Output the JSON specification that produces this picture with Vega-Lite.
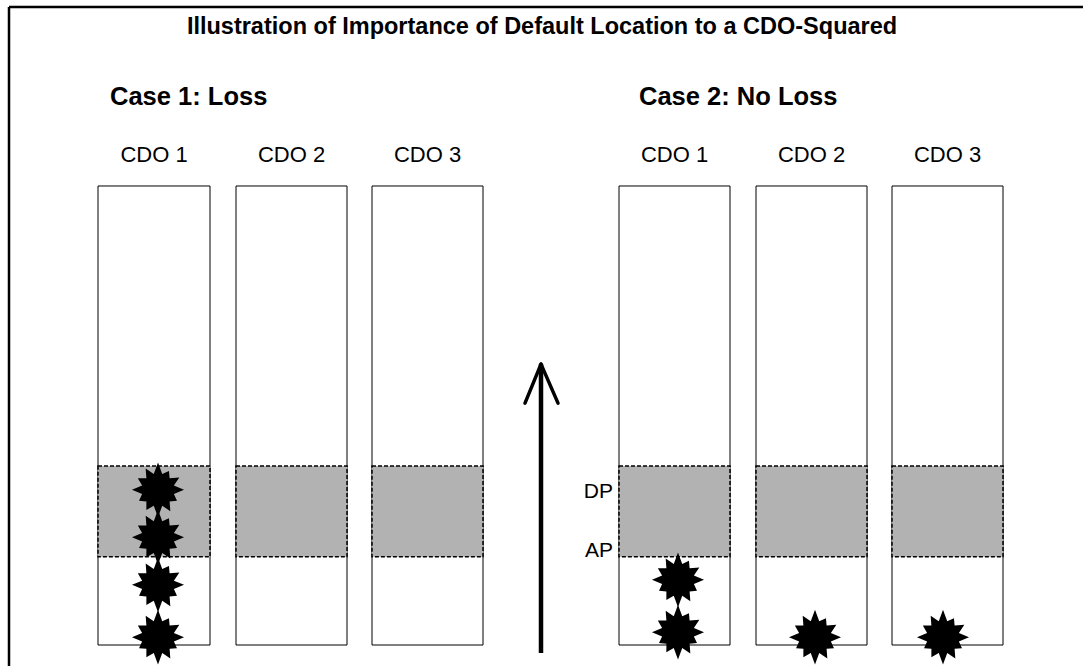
{
  "$schema": "https://vega.github.io/schema/vega-lite/v6.json",
  "width": 1083,
  "height": 666,
  "padding": 0,
  "autosize": {"type": "none"},
  "background": "white",
  "config": {"view": {"stroke": null}, "font": "Liberation Sans"},
  "datasets": {
    "boxes": [
      {"case": "Case 1", "cdo": "CDO 1", "left": 9.8, "right": 21.0, "mid": 15.4, "bottom": 0, "top": 100, "ap": 19.2, "dp": 39.0, "labelLevel": 105.2},
      {"case": "Case 1", "cdo": "CDO 2", "left": 23.6, "right": 34.7, "mid": 29.15, "bottom": 0, "top": 100, "ap": 19.2, "dp": 39.0, "labelLevel": 105.2},
      {"case": "Case 1", "cdo": "CDO 3", "left": 37.2, "right": 48.3, "mid": 42.75, "bottom": 0, "top": 100, "ap": 19.2, "dp": 39.0, "labelLevel": 105.2},
      {"case": "Case 2", "cdo": "CDO 1", "left": 61.9, "right": 73.0, "mid": 67.45, "bottom": 0, "top": 100, "ap": 19.2, "dp": 39.0, "labelLevel": 105.2},
      {"case": "Case 2", "cdo": "CDO 2", "left": 75.6, "right": 86.7, "mid": 81.15, "bottom": 0, "top": 100, "ap": 19.2, "dp": 39.0, "labelLevel": 105.2},
      {"case": "Case 2", "cdo": "CDO 3", "left": 89.2, "right": 100.3, "mid": 94.75, "bottom": 0, "top": 100, "ap": 19.2, "dp": 39.0, "labelLevel": 105.2}
    ],
    "defaults": [
      {"case": "Case 1", "cdo": "CDO 1", "x": 15.8, "level": 33.8},
      {"case": "Case 1", "cdo": "CDO 1", "x": 15.8, "level": 23.5},
      {"case": "Case 1", "cdo": "CDO 1", "x": 15.8, "level": 13.1},
      {"case": "Case 1", "cdo": "CDO 1", "x": 15.8, "level": 1.7},
      {"case": "Case 2", "cdo": "CDO 1", "x": 67.8, "level": 14.2},
      {"case": "Case 2", "cdo": "CDO 1", "x": 67.8, "level": 2.8},
      {"case": "Case 2", "cdo": "CDO 2", "x": 81.5, "level": 1.7},
      {"case": "Case 2", "cdo": "CDO 3", "x": 94.3, "level": 1.7}
    ],
    "frame": [
      {"x": 0.9, "x2": 108.3, "y": 139.0, "y2": 139.0},
      {"x": 0.9, "x2": 0.9, "y": 139.0, "y2": -4.575}
    ],
    "shaft": [{"x": 54.1, "x2": 54.1, "y": -1.74, "y2": 61.2}],
    "arms": [
      {"x": 54.1, "x2": 52.5, "y": 61.2, "y2": 52.7},
      {"x": 54.1, "x2": 55.8, "y": 61.2, "y2": 52.7}
    ],
    "title": [{"x": 54.2, "y": 133.1, "label": "Illustration of Importance of Default Location to a CDO-Squared"}],
    "cases": [
      {"x": 11.0, "y": 117.6, "label": "Case 1: Loss"},
      {"x": 63.9, "y": 117.6, "label": "Case 2: No Loss"}
    ],
    "points": [
      {"x": 61.3, "y": 32.0, "label": "DP"},
      {"x": 61.3, "y": 19.2, "label": "AP"}
    ]
  },
  "layer": [
    {
      "data": {"name": "boxes"},
      "mark": {"type": "rect", "fill": "white", "stroke": "black", "strokeWidth": 1},
      "encoding": {
        "x": {"field": "left", "type": "quantitative", "scale": {"domain": [0, 108.3], "nice": false, "zero": false}, "axis": null},
        "x2": {"field": "right"},
        "y": {"field": "bottom", "type": "quantitative", "scale": {"domain": [-4.575, 140.52], "nice": false, "zero": false}, "axis": null},
        "y2": {"field": "top"}
      }
    },
    {
      "data": {"name": "boxes"},
      "mark": {"type": "rect", "fill": "#b2b2b2", "stroke": "black", "strokeWidth": 1.5, "strokeDash": [4, 2]},
      "encoding": {
        "x": {"field": "left", "type": "quantitative", "scale": {"domain": [0, 108.3], "nice": false, "zero": false}, "axis": null},
        "x2": {"field": "right"},
        "y": {"field": "ap", "type": "quantitative", "scale": {"domain": [-4.575, 140.52], "nice": false, "zero": false}, "axis": null},
        "y2": {"field": "dp"}
      }
    },
    {
      "data": {"name": "boxes"},
      "mark": {"type": "text", "fontSize": 22, "align": "center", "baseline": "alphabetic", "color": "black"},
      "encoding": {
        "x": {"field": "mid", "type": "quantitative", "scale": {"domain": [0, 108.3], "nice": false, "zero": false}, "axis": null},
        "y": {"field": "labelLevel", "type": "quantitative", "scale": {"domain": [-4.575, 140.52], "nice": false, "zero": false}, "axis": null},
        "text": {"field": "cdo"}
      }
    },
    {
      "data": {"name": "defaults"},
      "mark": {"type": "point", "shape": "M0.95,0 L0.58,0.155 L0.693,0.4 L0.424,0.424 L0.45,0.779 L0.155,0.58 L0,1 L-0.155,0.58 L-0.425,0.736 L-0.424,0.424 L-0.693,0.4 L-0.58,0.155 L-0.95,0 L-0.58,-0.155 L-0.736,-0.425 L-0.424,-0.424 L-0.45,-0.779 L-0.155,-0.58 L0,-1 L0.155,-0.58 L0.4,-0.693 L0.424,-0.424 L0.779,-0.45 L0.58,-0.155 Z", "filled": true, "color": "black", "opacity": 1, "size": 3000, "strokeWidth": 0},
      "encoding": {
        "x": {"field": "x", "type": "quantitative", "scale": {"domain": [0, 108.3], "nice": false, "zero": false}, "axis": null},
        "y": {"field": "level", "type": "quantitative", "scale": {"domain": [-4.575, 140.52], "nice": false, "zero": false}, "axis": null}
      }
    },
    {
      "data": {"name": "frame"},
      "mark": {"type": "rule", "color": "black", "strokeWidth": 2.5},
      "encoding": {
        "x": {"field": "x", "type": "quantitative", "scale": {"domain": [0, 108.3], "nice": false, "zero": false}, "axis": null},
        "x2": {"field": "x2"},
        "y": {"field": "y", "type": "quantitative", "scale": {"domain": [-4.575, 140.52], "nice": false, "zero": false}, "axis": null},
        "y2": {"field": "y2"}
      }
    },
    {
      "data": {"name": "shaft"},
      "mark": {"type": "rule", "color": "black", "strokeWidth": 4.5},
      "encoding": {
        "x": {"field": "x", "type": "quantitative", "scale": {"domain": [0, 108.3], "nice": false, "zero": false}, "axis": null},
        "x2": {"field": "x2"},
        "y": {"field": "y", "type": "quantitative", "scale": {"domain": [-4.575, 140.52], "nice": false, "zero": false}, "axis": null},
        "y2": {"field": "y2"}
      }
    },
    {
      "data": {"name": "arms"},
      "mark": {"type": "rule", "color": "black", "strokeWidth": 3.5, "strokeCap": "round"},
      "encoding": {
        "x": {"field": "x", "type": "quantitative", "scale": {"domain": [0, 108.3], "nice": false, "zero": false}, "axis": null},
        "x2": {"field": "x2"},
        "y": {"field": "y", "type": "quantitative", "scale": {"domain": [-4.575, 140.52], "nice": false, "zero": false}, "axis": null},
        "y2": {"field": "y2"}
      }
    },
    {
      "data": {"name": "title"},
      "mark": {"type": "text", "fontSize": 23.5, "fontWeight": "bold", "align": "center", "baseline": "alphabetic", "color": "black"},
      "encoding": {
        "x": {"field": "x", "type": "quantitative", "scale": {"domain": [0, 108.3], "nice": false, "zero": false}, "axis": null},
        "y": {"field": "y", "type": "quantitative", "scale": {"domain": [-4.575, 140.52], "nice": false, "zero": false}, "axis": null},
        "text": {"field": "label"}
      }
    },
    {
      "data": {"name": "cases"},
      "mark": {"type": "text", "fontSize": 25.5, "fontWeight": "bold", "align": "left", "baseline": "alphabetic", "color": "black"},
      "encoding": {
        "x": {"field": "x", "type": "quantitative", "scale": {"domain": [0, 108.3], "nice": false, "zero": false}, "axis": null},
        "y": {"field": "y", "type": "quantitative", "scale": {"domain": [-4.575, 140.52], "nice": false, "zero": false}, "axis": null},
        "text": {"field": "label"}
      }
    },
    {
      "data": {"name": "points"},
      "mark": {"type": "text", "fontSize": 21, "align": "right", "baseline": "alphabetic", "color": "black"},
      "encoding": {
        "x": {"field": "x", "type": "quantitative", "scale": {"domain": [0, 108.3], "nice": false, "zero": false}, "axis": null},
        "y": {"field": "y", "type": "quantitative", "scale": {"domain": [-4.575, 140.52], "nice": false, "zero": false}, "axis": null},
        "text": {"field": "label"}
      }
    }
  ]
}
